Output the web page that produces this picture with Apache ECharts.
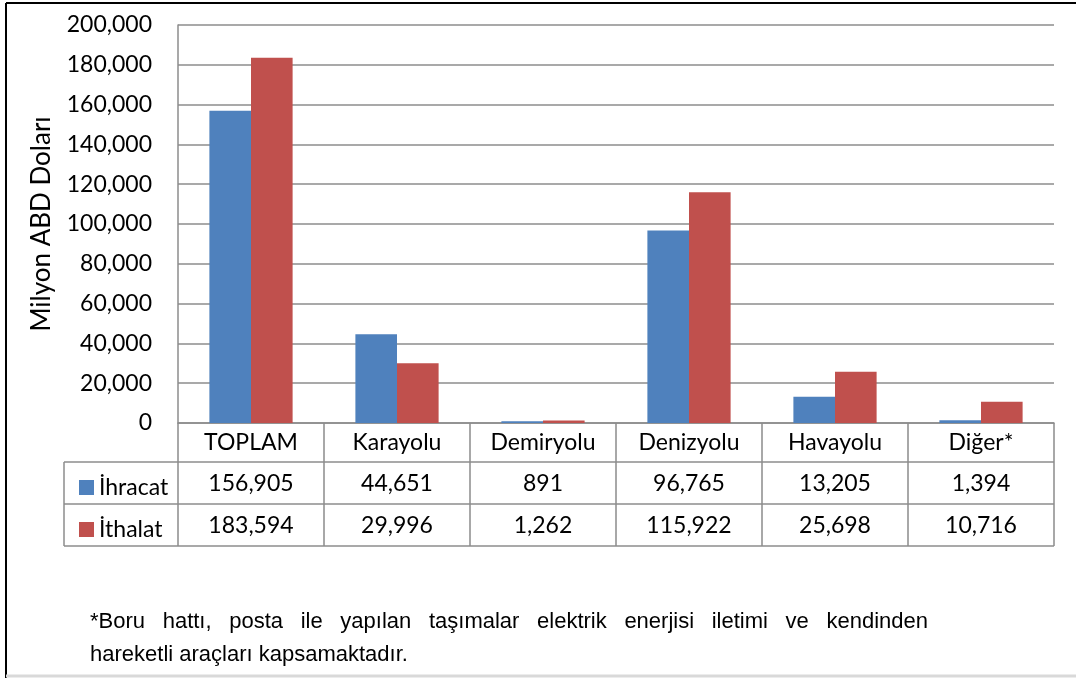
<!DOCTYPE html>
<html>
<head>
<meta charset="utf-8">
<script src="https://cdn.jsdelivr.net/npm/echarts@6/dist/echarts.min.js"></script>
<style>
html,body{margin:0;padding:0;background:#fff;}
#myChart{width:1076px;height:678px;}
</style>
</head>
<body>
<div id="myChart"></div>
<script>
var categories = ['TOPLAM', 'Karayolu', 'Demiryolu', 'Denizyolu', 'Havayolu', 'Diğer*'];
var ihracat = [156905, 44651, 891, 96765, 13205, 1394];
var ithalat = [183594, 29996, 1262, 115922, 25698, 10716];
var yTicks = [0, 20000, 40000, 60000, 80000, 100000, 120000, 140000, 160000, 180000, 200000];
var note1 = '*Boru hattı, posta ile yapılan taşımalar elektrik enerjisi iletimi ve kendinden';
var note2 = 'hareketli araçları kapsamaktadır.';

var fmt = function(v){ return v.toLocaleString('en-US'); };
var gridColor = '#8c8c8c';
var font = 'Lato, "Open Sans", sans-serif';
var noteFont = '"Liberation Sans", Arial, sans-serif';
var noteSize = 22;

var myChart = echarts.init(document.getElementById('myChart'));

//dipnot ilk satırı iki yana yaslı
var ctx = document.createElement('canvas').getContext('2d');
ctx.font = noteSize + 'px ' + noteFont;
var words = note1.split(' ');
var wordsW = 0;
words.forEach(function(w){ wordsW += ctx.measureText(w).width; });
var gap = (928 - 90 - wordsW) / (words.length - 1);
var noteGraphics = [];
var cx = 90;
words.forEach(function(w){
    noteGraphics.push({
        type: 'text', left: cx, top: 611,
        style: { text: w, fontSize: noteSize, fontFamily: noteFont, fill: '#000' }
    });
    cx += ctx.measureText(w).width + gap;
});
noteGraphics.push({
    type: 'text', left: 90, top: 644,
    style: { text: note2, fontSize: noteSize, fontFamily: noteFont, fill: '#000' }
});

var labelStyle = { color: '#000', fontSize: 23, fontFamily: font, margin: 8 };

//x eksenleri: başlık satırı + iki değer satırı
var xAxes = [{
    type: 'category',
    data: categories,
    position: 'bottom',
    axisLine: { show: true, lineStyle: { color: gridColor, width: 1.5 } },
    axisTick: { show: true, length: 123, lineStyle: { color: gridColor, width: 1.5 } },
    axisLabel: labelStyle
}, {
    type: 'category',
    data: ihracat.map(fmt),
    position: 'bottom',
    offset: 41,
    axisLine: { show: false },
    axisTick: { show: false },
    axisLabel: labelStyle
}, {
    type: 'category',
    data: ithalat.map(fmt),
    position: 'bottom',
    offset: 83,
    axisLine: { show: false },
    axisTick: { show: false },
    axisLabel: labelStyle
}];

var option = {
    animation: false,
    backgroundColor: '#fff',
    grid: { left: 178, right: 22, top: 25, bottom: 255 },
    legend: {
        orient: 'vertical',
        left: 74,
        top: 471,
        itemWidth: 15,
        itemHeight: 15,
        itemGap: 19,
        icon: 'rect',
        textStyle: { fontSize: 23, fontFamily: font, color: '#000', lineHeight: 23 },
        data: ['İhracat', 'İthalat']
    },
    xAxis: xAxes,
    yAxis: {
        type: 'value',
        min: 0,
        max: 200000,
        interval: 20000,
        name: 'Milyon ABD Doları',
        nameLocation: 'middle',
        nameGap: 123,
        nameTextStyle: { fontSize: 26, fontFamily: font, color: '#000' },
        axisLine: { show: true, lineStyle: { color: gridColor, width: 1.5 } },
        axisTick: { show: false },
        splitLine: { lineStyle: { color: gridColor, width: 1.5 } },
        axisLabel: {
            color: '#000', fontSize: 23, fontFamily: font, margin: 26,
            formatter: function(v){ return yTicks.indexOf(v) >= 0 ? fmt(v) : ''; }
        }
    },
    series: [{
        name: 'İhracat',
        type: 'bar',
        data: ihracat,
        barGap: '0%',
        barCategoryGap: '43%',
        itemStyle: { color: '#4F81BD' }
    }, {
        name: 'İthalat',
        type: 'bar',
        data: ithalat,
        itemStyle: { color: '#C0504D' }
    }],
    graphic: [
        //dış çerçeve
        { type: 'line', shape: { x1: 6, y1: 3, x2: 1076, y2: 3 }, style: { stroke: '#000', lineWidth: 2 } },
        { type: 'line', shape: { x1: 6, y1: 3, x2: 6, y2: 678 }, style: { stroke: '#000', lineWidth: 2 } },
        { type: 'line', shape: { x1: 6, y1: 676, x2: 1076, y2: 676 }, style: { stroke: '#d9d9d9', lineWidth: 3 } },
        //tablo çizgileri
        { type: 'line', shape: { x1: 64, y1: 462, x2: 1054, y2: 462 }, style: { stroke: gridColor, lineWidth: 1.5 } },
        { type: 'line', shape: { x1: 64, y1: 504, x2: 1054, y2: 504 }, style: { stroke: gridColor, lineWidth: 1.5 } },
        { type: 'line', shape: { x1: 64, y1: 546, x2: 1054, y2: 546 }, style: { stroke: gridColor, lineWidth: 1.5 } },
        { type: 'line', shape: { x1: 64, y1: 462, x2: 64, y2: 546 }, style: { stroke: gridColor, lineWidth: 1.5 } }
    ].concat(noteGraphics)
};
myChart.setOption(option);
</script>
</body>
</html>
